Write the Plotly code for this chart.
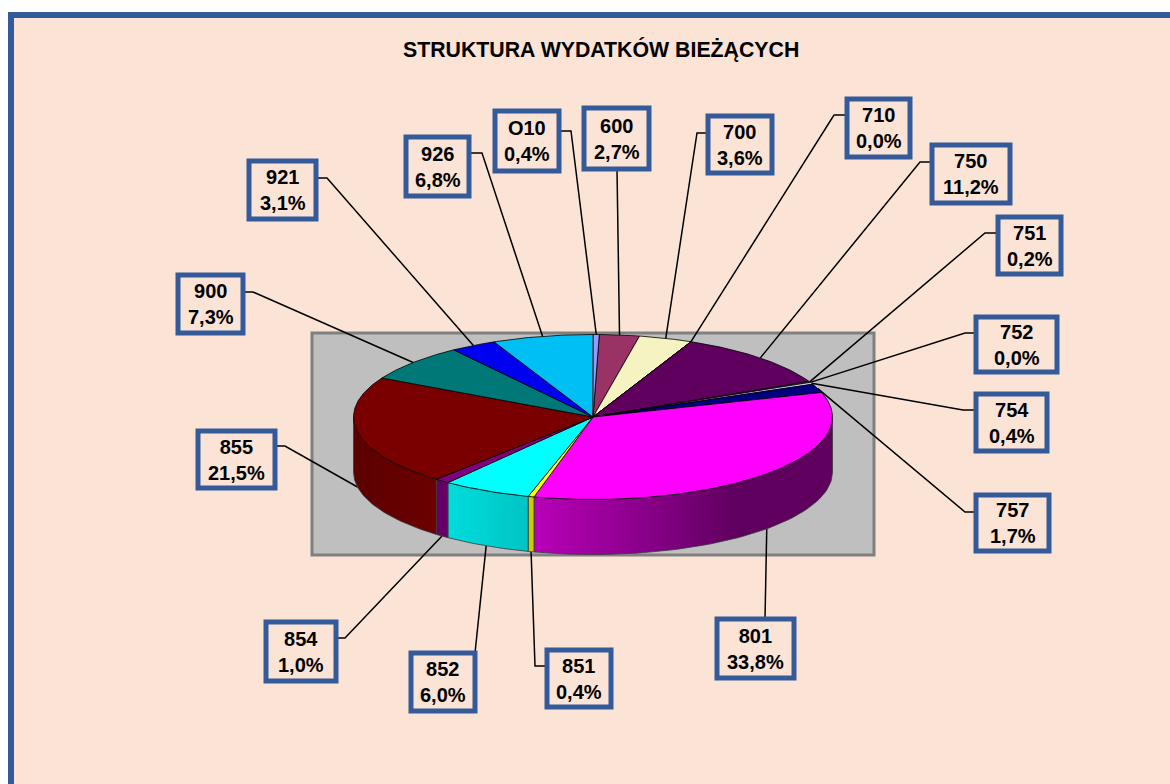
import numpy as np
import plotly.graph_objects as go

# --- data ---
categories = ["600", "700", "710", "750", "751", "752", "754", "757", "801",
              "851", "852", "854", "855", "900", "921", "926", "O10"]
values = [2.7, 3.6, 0.0, 11.2, 0.2, 0.0, 0.4, 1.7, 33.8,
          0.4, 6.0, 1.0, 21.5, 7.3, 3.1, 6.8, 0.4]
top_colors = ["#993366", "#F5F3C2", "#660066", "#5F005F", "#F08080", "#FFFFFF", "#CCCCFF", "#000080", "#FF00FF",
              "#FFFF00", "#00FFFF", "#800080", "#7A0000", "#007878", "#0000F0", "#00BFF5", "#9999FF"]
wall_colors = {
    "801": [[0, "#B800B8"], [0.35, "#8C008C"], [0.68, "#5F005F"], [1, "#5F005F"]],
    "851": [[0, "#CCCC00"], [1, "#CCCC00"]],
    "852": [[0, "#00DCDC"], [1, "#00C4C4"]],
    "854": [[0, "#660066"], [1, "#660066"]],
    "855": [[0, "#5C0000"], [1, "#6C0000"]],
}
title_text = "STRUKTURA WYDATKÓW BIEŻĄCYCH"

# --- layout of the picture ---
W, H = 1170, 784
CX, CY, RX, RY, DEPTH = 593, 417, 239.5, 82.5, 55
START_DEG = 1.5
# box: left, right, top, bottom ; stub: points from box to elbow
boxes = {
    "600": (584, 649, 108, 169), "700": (708, 772, 116, 173), "710": (847, 910, 99, 157),
    "750": (932, 1010, 145, 203), "751": (998, 1061, 217, 274), "752": (976, 1057, 317, 372),
    "754": (976, 1047, 394, 451), "757": (976, 1049, 495, 551), "801": (717, 794, 619, 678),
    "851": (547, 611, 650, 707), "852": (411, 475, 653, 711), "854": (266, 336, 622, 681),
    "855": (198, 275, 431, 488), "900": (178, 243, 275, 333), "921": (249, 316, 161, 219),
    "926": (406, 469, 137, 196), "O10": (495, 559, 111, 171),
}
stubs = {
    "600": [(617, 169)], "700": [(708, 133), (697, 133)], "710": [(847, 115), (834, 115)],
    "750": [(932, 162), (920, 162)], "751": [(998, 233), (985, 233)], "752": [(976, 333), (965, 333)],
    "754": [(976, 410), (963, 410)], "757": [(976, 512), (965, 512)], "801": [(765, 619)],
    "851": [(547, 666), (535, 666)], "852": [(475, 653)], "854": [(336, 638), (345, 638)],
    "855": [(275, 446), (285, 446)], "900": [(243, 292), (253, 292)], "921": [(316, 178), (327, 178)],
    "926": [(469, 153), (482, 153)], "O10": [(559, 131), (571, 131)],
}
LABEL_FONT = "Liberation Sans, Arial, sans-serif"


def ell(deg):
    r = np.radians(deg)
    return CX + RX * np.sin(r), CY - RY * np.cos(r)


total = sum(values)
edges = START_DEG + np.concatenate([[0], np.cumsum(values)]) / total * 360
fig = go.Figure()

# leader lines
for i, cat in enumerate(categories):
    mid = (edges[i] + edges[i + 1]) / 2
    ax, ay = ell(mid)
    if 90 < mid < 270:
        ay += DEPTH
    pts = stubs[cat] + [(ax, ay)]
    fig.add_trace(go.Scatter(x=[p[0] for p in pts], y=[p[1] for p in pts], mode="lines",
                             line=dict(color="#000000", width=1.5), hoverinfo="skip"))

# side walls
for i, cat in enumerate(categories):
    a0, a1 = max(edges[i], 90), min(edges[i + 1], 270)
    if a1 <= a0:
        continue
    t = np.linspace(a0, a1, 60)
    xs, ys = ell(t)
    px = np.concatenate([xs, xs[::-1], xs[:1]])
    py = np.concatenate([ys, ys[::-1] + DEPTH, ys[:1]])
    fig.add_trace(go.Scatter(
        x=px, y=py, mode="lines", line=dict(color="#3A3A3A", width=0.8), fill="toself",
        fillgradient=dict(type="horizontal", colorscale=wall_colors[cat],
                          start=float(xs.min()), stop=float(xs.max())),
        hoverinfo="skip"))

# top faces
for i, cat in enumerate(categories):
    t = np.linspace(edges[i], edges[i + 1], max(2, int(values[i] * 6)))
    xs, ys = ell(t)
    px = np.concatenate([[CX], xs, [CX]])
    py = np.concatenate([[CY], ys, [CY]])
    fig.add_trace(go.Scatter(x=px, y=py, mode="lines", fill="toself", fillcolor=top_colors[i],
                             line=dict(color="#000000", width=0.8), hoverinfo="skip"))

shapes = [
    dict(type="rect", x0=11, y0=15, x1=W + 30, y1=H + 30, layer="below",
         line=dict(color="#355A9A", width=6), fillcolor="#FBE4D6"),
    dict(type="rect", x0=312, y0=333, x1=874, y1=555, layer="below",
         line=dict(color="#808080", width=3), fillcolor="#BFBFBF"),
]
annotations = [dict(x=600.5, y=49, text="<b>" + title_text + "</b>", showarrow=False,
                    font=dict(family=LABEL_FONT, size=21.3, color="#000000"))]
for i, cat in enumerate(categories):
    x0, x1, y0, y1 = boxes[cat]
    shapes.append(dict(type="rect", x0=x0, x1=x1, y0=y0, y1=y1, layer="above",
                       line=dict(color="#355A9A", width=5), fillcolor="#FBE4D6"))
    pct = f"{values[i]:.1f}%".replace(".", ",")
    annotations.append(dict(x=(x0 + x1) / 2, y=(y0 + y1) / 2, showarrow=False, align="center",
                            text=f"<b>{cat}<br>{pct}</b>",
                            font=dict(family=LABEL_FONT, size=20, color="#000000")))

fig.update_layout(
    width=W, height=H, margin=dict(l=0, r=0, t=0, b=0), autosize=False,
    paper_bgcolor="#FFFFFF", plot_bgcolor="rgba(0,0,0,0)", showlegend=False,
    xaxis=dict(range=[0, W], visible=False, fixedrange=True),
    yaxis=dict(range=[H, 0], visible=False, fixedrange=True),
    shapes=shapes, annotations=annotations,
)
fig.write_html("out.html", config={"displayModeBar": False},
               default_width=W, default_height=H,
               post_script="document.body.style.margin='0';document.documentElement.style.overflow='hidden';")
